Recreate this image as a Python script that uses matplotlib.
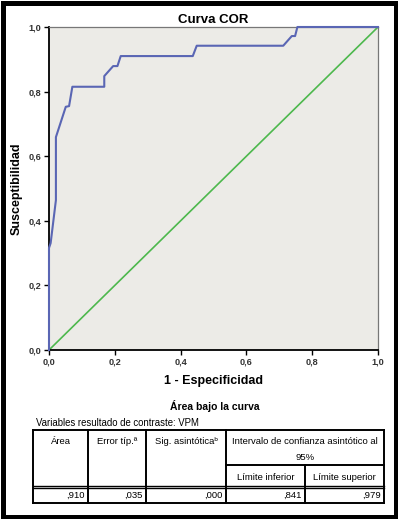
import matplotlib
matplotlib.use("Agg")
import matplotlib.pyplot as plt
from matplotlib.patches import Rectangle

plt.rcParams['font.family'] = ['Liberation Sans', 'DejaVu Sans']

# ROC curve points (1 - specificity, sensitivity)
fpr = [0.0, 0.0, 0.005, 0.021, 0.021, 0.051, 0.061, 0.071, 0.168, 0.168, 0.195,
       0.208, 0.218, 0.437, 0.449, 0.712, 0.738, 0.748, 0.755, 1.0]
tpr = [0.0, 0.316, 0.331, 0.464, 0.659, 0.753, 0.755, 0.815, 0.815, 0.848, 0.879,
       0.879, 0.910, 0.910, 0.942, 0.942, 0.972, 0.972, 1.0, 1.0]
ref_line = [0.0, 1.0]
ticks = [0.0, 0.2, 0.4, 0.6, 0.8, 1.0]
tick_labels = ["0,0", "0,2", "0,4", "0,6", "0,8", "1,0"]

# Table content
header_top = ["Área", "Error típ.ª", "Sig. asintóticaᵇ"]
ci_header = ["Intervalo de confianza asintótico al", "95%"]
ci_sub = ["Límite inferior", "Límite superior"]
row_values = [",910", ",035", ",000", ",841", ",979"]

W, H = 398, 519
fig = plt.figure(figsize=(W / 100, H / 100), dpi=100)
fig.patch.set_facecolor("white")

ax = fig.add_axes([49 / W, 1 - 350 / H, 329 / W, 323 / H])
ax.set_facecolor("#ECEBE7")
ax.plot(ref_line, ref_line, color="#4DB84D", lw=1.2, zorder=2)
ax.plot(fpr, tpr, color="#5A66B4", lw=1.5, zorder=3, clip_on=False)
ax.set_xlim(0, 1)
ax.set_ylim(0, 1)
ax.set_xticks(ticks)
ax.set_yticks(ticks)
ax.set_xticklabels(tick_labels)
ax.set_yticklabels(tick_labels)
ax.tick_params(direction="out", length=3.5, width=1.0, labelsize=6.6, pad=2,
               labelcolor="#333333")
for lab in ax.get_xticklabels() + ax.get_yticklabels():
    lab.set_fontweight("bold")
for s in ["left", "bottom"]:
    ax.spines[s].set_color("black")
    ax.spines[s].set_linewidth(1.3)
for s in ["top", "right"]:
    ax.spines[s].set_color("#777777")
    ax.spines[s].set_linewidth(0.9)

ax.set_title("Curva COR", fontsize=9.5, fontweight="bold", pad=3)
ax.set_xlabel("1 - Especificidad", fontsize=9, fontweight="bold", labelpad=6)
ax.set_ylabel("Susceptibilidad", fontsize=9, fontweight="bold", labelpad=4)

# Overlay in pixel coordinates for the table and frame
ov = fig.add_axes([0, 0, 1, 1], zorder=-1)
ov.set_xlim(0, W)
ov.set_ylim(H, 0)
ov.axis("off")
ov.patch.set_alpha(0)

ov.add_patch(Rectangle((2.5, 2.5), W - 5, H - 5, fill=False, edgecolor="black",
                       lw=3.6))

ov.text(215, 406, "Área bajo la curva", fontsize=7.5, fontweight="bold",
        ha="center", va="center")
ov.text(36, 423, "Variables resultado de contraste: VPM", fontsize=6.9,
        ha="left", va="center")

x0, x1, x2, x3, x4, x5 = 33, 88, 146, 226, 305, 384
y0, ysub, yh, yb = 430, 465, 487, 503
lw_t = 1.4
def hline(y, xa, xb, lw=lw_t):
    ov.plot([xa, xb], [y, y], color="black", lw=lw, solid_capstyle="projecting")
def vline(x, ya, yb_, lw=lw_t):
    ov.plot([x, x], [ya, yb_], color="black", lw=lw, solid_capstyle="projecting")

hline(y0, x0, x5)
hline(ysub, x3, x5)
hline(yh - 1.3, x0, x5, lw=1.0)
hline(yh + 1.3, x0, x5, lw=1.0)
hline(yb, x0, x5)
for x in [x0, x1, x2, x3, x5]:
    vline(x, y0, yb)
vline(x4, ysub, yb)

fs = 6.8
for txt, (a, b) in zip(header_top, [(x0, x1), (x1, x2), (x2, x3)]):
    ov.text((a + b) / 2, 441, txt, fontsize=fs, ha="center", va="center")
ov.text((x3 + x5) / 2, 441, ci_header[0], fontsize=fs, ha="center", va="center")
ov.text((x3 + x5) / 2, 458, ci_header[1], fontsize=fs, ha="center", va="center")
ov.text((x3 + x4) / 2, 477, ci_sub[0], fontsize=fs, ha="center", va="center")
ov.text((x4 + x5) / 2, 477, ci_sub[1], fontsize=fs, ha="center", va="center")
for txt, xr in zip(row_values, [x1, x2, x3, x4, x5]):
    ov.text(xr - 3, 495.5, txt, fontsize=fs, ha="right", va="center")

fig.savefig("out.png", dpi=100)
